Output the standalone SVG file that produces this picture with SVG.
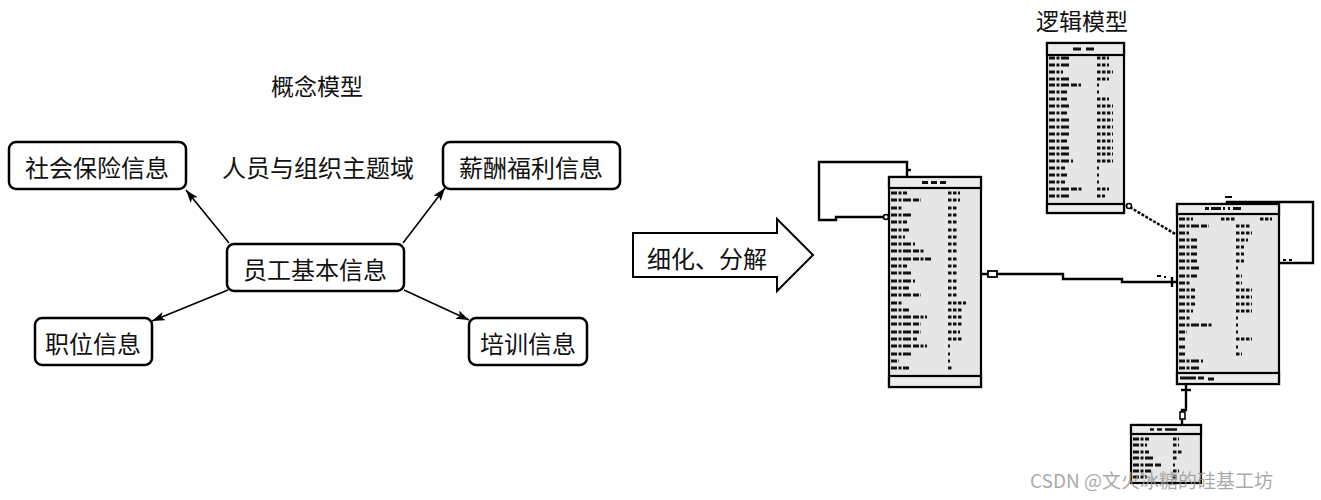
<svg xmlns="http://www.w3.org/2000/svg" width="1321" height="500" viewBox="0 0 1321 500">
<style>
.lbl{font-family:"Noto Sans CJK SC","Noto Sans",sans-serif;font-size:24px;fill:#111;text-anchor:middle;dominant-baseline:central}
.ttl{font-size:23px}
.box{fill:#fff;stroke:#000;stroke-width:2.5}
.edge{fill:none;stroke:#000;stroke-width:1.6}
.tbl{fill:#e6e6e6;stroke:#000;stroke-width:2.2}
.band{fill:#ececec;stroke:#000;stroke-width:2.2}
.colL{fill:none;stroke:#111;stroke-width:3;stroke-dasharray:6 1.5 3 1.5 8 2}
.colR{fill:none;stroke:#111;stroke-width:3;stroke-dasharray:3.5 1.5}
.conn{fill:none;stroke:#000;stroke-width:2.4}
.wm{font-family:"Noto Sans CJK SC","Liberation Sans",sans-serif;font-size:19px;fill:#9a9a9a;fill-opacity:0.85}
</style>
<defs>
<marker id="ah" markerUnits="userSpaceOnUse" markerWidth="14" markerHeight="10" refX="13" refY="4.5" orient="auto">
<path d="M0,0 L13,4.5 L0,9 L3,4.5 z" fill="#000"/>
</marker>
</defs>
<rect width="1321" height="500" fill="#fff"/>

<text class="lbl ttl" x="317" y="85">概念模型</text>
<text class="lbl" x="318" y="166">人员与组织主题域</text>

<g id="edges">
<line class="edge" x1="229" y1="243" x2="186" y2="190" marker-end="url(#ah)"/>
<line class="edge" x1="403" y1="243" x2="445" y2="188" marker-end="url(#ah)"/>
<line class="edge" x1="228" y1="290" x2="152" y2="321" marker-end="url(#ah)"/>
<line class="edge" x1="404" y1="290" x2="469" y2="320" marker-end="url(#ah)"/>
</g>

<g id="n-shebao"><rect class="box" x="9" y="142" width="177" height="47" rx="7"/><text class="lbl" x="97" y="166">社会保险信息</text></g>
<g id="n-xinchou"><rect class="box" x="443" y="142" width="177" height="47" rx="7"/><text class="lbl" x="531" y="166">薪酬福利信息</text></g>
<g id="n-yuangong"><rect class="box" x="227" y="244" width="177" height="47" rx="7"/><text class="lbl" x="315" y="268">员工基本信息</text></g>
<g id="n-zhiwei"><rect class="box" x="35" y="318" width="117" height="47" rx="7"/><text class="lbl" x="93" y="342">职位信息</text></g>
<g id="n-peixun"><rect class="box" x="469" y="318" width="118" height="47" rx="7"/><text class="lbl" x="528" y="342">培训信息</text></g>

<g id="big-arrow">
<path d="M633,233 H777 V219 L813,255 L777,291 V277 H633 Z" fill="#fff" stroke="#000" stroke-width="2"/>
<text class="lbl" x="707" y="257">细化、分解</text>
</g>

<text class="lbl ttl" x="1082" y="20">逻辑模型</text>

<g id="connectors">
<path class="conn" d="M907,177 V162 H819 V220 H836 V217 H884"/>
<line class="conn" x1="907" y1="170" x2="911" y2="170"/>
<circle cx="886" cy="217" r="2.5" fill="#fff" stroke="#000" stroke-width="1.6"/>
<path class="conn" d="M981,274 H1063 V279 H1122 V282 H1177"/>
<rect x="988" y="271" width="9" height="6" fill="#fff" stroke="#000" stroke-width="1.8"/>
<line class="conn" x1="1172" y1="277" x2="1172" y2="287"/>
<path d="M1157,276 h4 M1164,277 h2" stroke="#000" stroke-width="2"/>
<line class="conn" x1="1126" y1="205" x2="1177" y2="235" stroke-dasharray="3 1.5"/>
<circle cx="1129" cy="206" r="2.5" fill="#fff" stroke="#000" stroke-width="1.6"/>
<path class="conn" d="M1227,204 V202 H1313 V263 H1279"/>
<path d="M1225,197 h7 M1283,260 h3 M1289,260 h3" stroke="#000" stroke-width="2"/>
<path class="conn" d="M1186,384 V410 H1182 V425"/>
<line class="conn" x1="1181" y1="390" x2="1191" y2="390"/>
<rect x="1180" y="412" width="5" height="7" fill="#fff" stroke="#000" stroke-width="1.6"/>
</g>

<g id="t1">
<rect class="tbl" x="889" y="177" width="92" height="210"/>
<rect class="band" x="889" y="177" width="92" height="11"/>
<rect class="band" x="889" y="376" width="92" height="11"/>
<path d="M922,182.5 h6 M931,182.5 h6 M940,182.5 h6" stroke="#111" stroke-width="2.8"/>
<path class="colL" d="M891,193h16 M891,200h30 M891,208h12 M891,215h22 M891,222h16 M891,230h18 M891,237h14 M891,244h24 M891,251h34 M891,259h40 M891,266h16 M891,273h20 M891,281h24 M891,288h18 M891,295h30 M891,303h12 M891,310h18 M891,317h36 M891,324h30 M891,332h30 M891,339h26 M891,346h36 M891,354h20 M891,361h8 M891,368h18"/>
<path class="colR" d="M948,193h12 M948,200h12 M948,208h10 M948,215h10 M948,222h10 M948,230h10 M948,237h10 M948,244h10 M948,251h10 M948,259h10 M948,266h10 M948,273h10 M948,281h10 M948,288h10 M948,295h10 M948,303h18 M948,310h14 M948,317h14 M948,324h14 M948,332h12 M948,339h14 M948,346h2 M948,354h2 M948,361h2 M948,368h5"/>
</g>

<g id="t2">
<rect class="tbl" x="1047" y="43" width="77" height="170"/>
<rect class="band" x="1047" y="43" width="77" height="12"/>
<rect class="band" x="1047" y="204" width="77" height="9"/>
<path d="M1073,49 h8 M1086,49 h8" stroke="#111" stroke-width="2.8"/>
<path class="colL" d="M1049,58h22 M1049,65h22 M1049,72h14 M1049,79h22 M1049,85h32 M1049,92h18 M1049,99h18 M1049,106h20 M1049,113h18 M1049,120h20 M1049,127h20 M1049,134h20 M1049,141h18 M1049,148h22 M1049,154h20 M1049,161h24 M1049,168h16 M1049,175h18 M1049,182h16 M1049,189h34 M1049,196h20"/>
<path class="colR" d="M1097,58h12 M1097,65h12 M1097,72h16 M1097,79h12 M1097,85h2 M1097,92h2 M1097,99h12 M1097,106h16 M1097,113h16 M1097,120h16 M1097,127h16 M1097,134h16 M1097,141h16 M1097,148h16 M1097,154h16 M1097,161h16 M1097,168h2 M1097,175h2 M1097,182h2 M1097,189h12 M1097,196h8"/>
</g>

<g id="t3">
<rect class="tbl" x="1177" y="204" width="102" height="180"/>
<rect class="band" x="1177" y="204" width="102" height="10"/>
<rect class="band" x="1177" y="373" width="102" height="11"/>
<path d="M1205,208.5 h4 M1211,208.5 h10 M1223,208.5 h2 M1228,208.5 h2 M1233,208.5 h8" stroke="#111" stroke-width="2.8"/>
<path d="M1180,378 h16 M1198,378 h6 M1208,379 h6" stroke="#111" stroke-width="2.8"/>
<path class="colL" d="M1179,219h14 M1179,226h30 M1179,233h10 M1179,240h18 M1179,247h18 M1179,254h18 M1179,261h18 M1179,268h20 M1179,276h18 M1179,283h12 M1179,290h16 M1179,297h16 M1179,304h16 M1179,311h14 M1179,318h12 M1179,325h34 M1179,332h8 M1179,339h6 M1179,347h6 M1179,354h6 M1179,361h24 M1179,368h22"/>
<path class="colR" d="M1221,219h14 M1260,219h12 M1236,226h14 M1236,233h16 M1236,240h12 M1236,247h8 M1236,254h8 M1236,261h8 M1236,268h2 M1236,276h6 M1236,283h6 M1236,290h16 M1236,297h16 M1236,304h16 M1236,311h16 M1236,318h2 M1236,325h2 M1236,332h2 M1236,339h16 M1236,347h2 M1236,354h6"/>
</g>

<g id="t4">
<rect class="tbl" x="1131" y="425" width="70" height="58"/>
<rect class="band" x="1131" y="425" width="70" height="9"/>
<path d="M1150,429.5 h4 M1157,429.5 h5 M1165,429.5 h12" stroke="#111" stroke-width="2.6"/>
<path class="colL" d="M1133,439h16 M1133,445h14 M1133,452h16 M1133,458h22 M1133,465h28 M1133,471h18 M1133,477h14"/>
<path class="colR" d="M1173,439h6 M1173,445h6 M1173,452h10 M1173,458h4 M1173,465h2 M1173,471h6 M1173,477h4"/>
</g>

<text class="wm" x="1030" y="488">CSDN @文火冰糖的硅基工坊</text>
</svg>
